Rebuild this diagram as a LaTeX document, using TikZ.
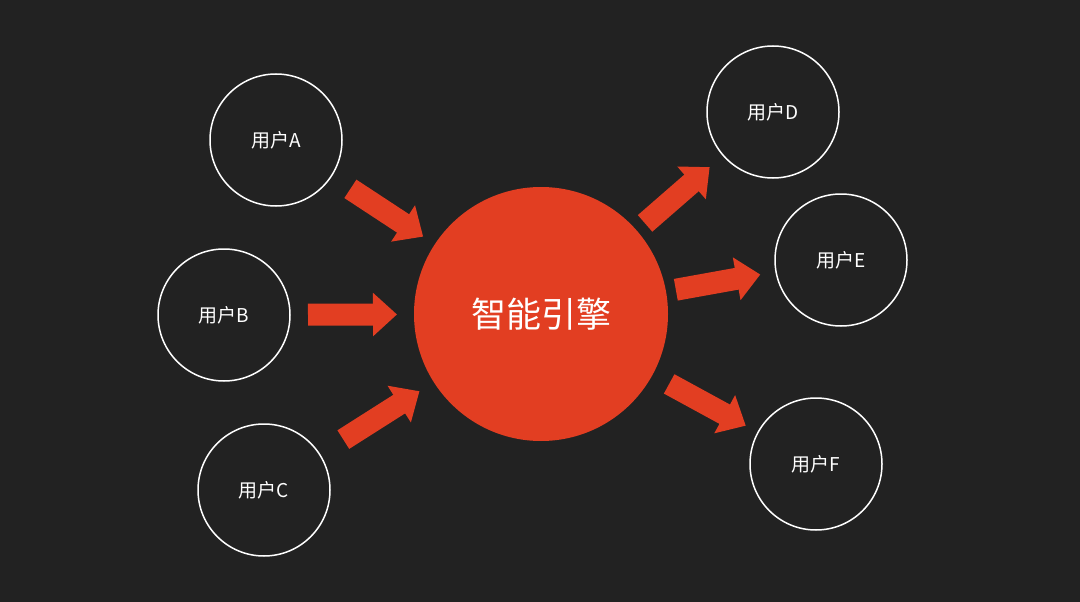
\documentclass[tikz,border=0pt]{standalone}
\usepackage{fontspec}
\newfontfamily\cjk{Noto Sans CJK SC}
\usetikzlibrary{arrows.meta}

\definecolor{bgDark}{HTML}{222222}
\definecolor{engineRed}{HTML}{E23E22}

\begin{document}
\begin{tikzpicture}[
    x=1pt, y=-1pt,
    % Style for the user circles
    userNode/.style={
        circle,
        draw=white,
        line width=1.5pt,
        inner sep=0pt,
        outer sep=0pt,
        minimum size=132pt,
        text=white,
        font=\cjk\fontsize{19}{22}\selectfont
    },
    % Style for the central engine
    engineNode/.style={
        circle,
        fill=engineRed,
        inner sep=0pt,
        outer sep=0pt,
        minimum size=254pt,
        text=white,
        font=\cjk\fontsize{35}{40}\selectfont
    },
    % Style for the thick block arrows
    blockArrow/.style={
        draw=engineRed,
        line width=22pt,
        -{Triangle[length=24pt, width=42pt]}
    }
]

    % --- BACKGROUND ---
    \fill[bgDark] (0,0) rectangle (1080,602);
    \useasboundingbox (0,0) rectangle (1080,602);

    % --- CENTRE ---
    \node[engineNode] (eng) at (541,314) {智能引擎};

    % --- LEFT USERS ---
    \node[userNode] (uA) at (276,140) {用户A};
    \node[userNode] (uB) at (224,315) {用户B};
    \node[userNode] (uC) at (264,490) {用户C};

    % --- RIGHT USERS ---
    \node[userNode] (uD) at (773,112) {用户D};
    \node[userNode] (uE) at (841,260) {用户E};
    \node[userNode] (uF) at (816,464) {用户F};

    % --- ARROWS IN ---
    \draw[blockArrow, shorten <=23pt, shorten >=14pt] (uA) -- (eng);
    \draw[blockArrow, shorten <=18pt, shorten >=17pt] (uB) -- (eng);
    \draw[blockArrow, shorten <=28pt, shorten >=17pt] (uC) -- (eng);

    % --- ARROWS OUT ---
    \draw[blockArrow, shorten <=11pt, shorten >=18pt] (eng) -- (uD);
    \draw[blockArrow, shorten <=10pt, shorten >=16pt] (eng) -- (uE);
    \draw[blockArrow, shorten <=19pt, shorten >=14pt] (eng) -- (uF);

\end{tikzpicture}
\end{document}
